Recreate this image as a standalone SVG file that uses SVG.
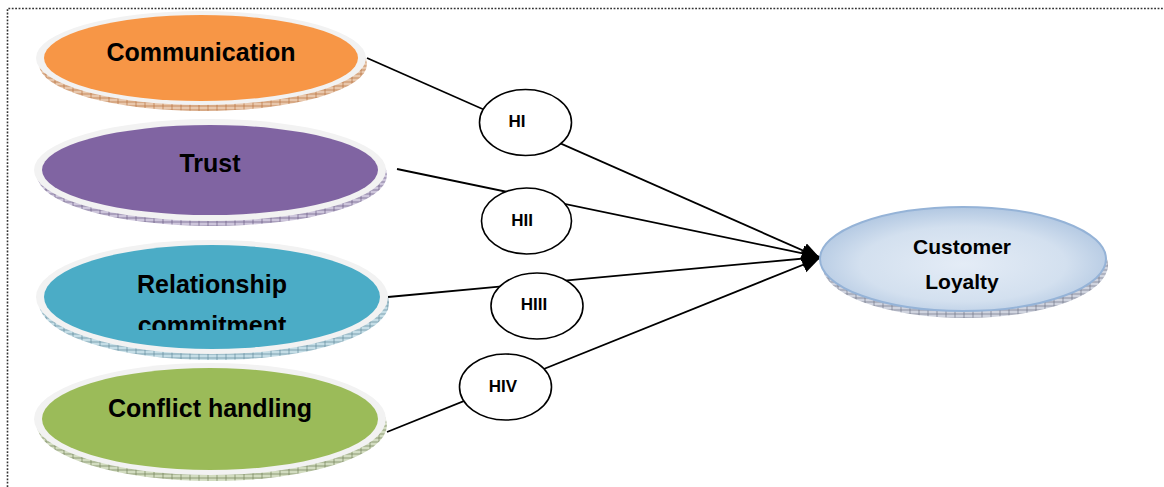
<svg xmlns="http://www.w3.org/2000/svg" width="1164" height="487" viewBox="0 0 1164 487">
<style>
.rim{fill:#f2f2f2}
.lbl{font-family:"Liberation Sans",Arial,sans-serif;font-weight:bold;font-size:25px;fill:#000;text-anchor:middle}
.cl{font-family:"Liberation Sans",Arial,sans-serif;font-weight:bold;font-size:21px;fill:#000;text-anchor:middle}
.h{fill:#fff;stroke:#000;stroke-width:1.6}
.ht{font-family:"Liberation Sans",Arial,sans-serif;font-weight:bold;font-size:17px;fill:#000;text-anchor:middle}
.con{stroke:#000;stroke-width:1.8;fill:none;marker-end:url(#arr)}
.border{fill:none;stroke:#333;stroke-width:1.6;stroke-dasharray:1.8 1.6}
</style>
<defs>
<marker id="arr" markerUnits="userSpaceOnUse" markerWidth="20" markerHeight="18" refX="18" refY="8" orient="auto">
<path d="M0,0 L18,8 L0,16 Z" fill="#000"/>
</marker>
<pattern id="hO" width="9" height="4" patternUnits="userSpaceOnUse"><rect width="9" height="4" fill="#e8c7ac"/><path d="M0,2 H9 M1,0 V4" stroke="#b86f3c" stroke-width="0.7"/></pattern>
<pattern id="hP" width="9" height="4" patternUnits="userSpaceOnUse"><rect width="9" height="4" fill="#cdc5db"/><path d="M0,2 H9 M1,0 V4" stroke="#6a5a82" stroke-width="0.7"/></pattern>
<pattern id="hB" width="9" height="4" patternUnits="userSpaceOnUse"><rect width="9" height="4" fill="#c4dde6"/><path d="M0,2 H9 M1,0 V4" stroke="#5d8a9a" stroke-width="0.7"/></pattern>
<pattern id="hG" width="9" height="4" patternUnits="userSpaceOnUse"><rect width="9" height="4" fill="#d2dcc0"/><path d="M0,2 H9 M1,0 V4" stroke="#6e7f54" stroke-width="0.7"/></pattern>
<pattern id="hC" width="9" height="4" patternUnits="userSpaceOnUse"><rect width="9" height="4" fill="#cfd3de"/><path d="M0,2 H9 M1,0 V4" stroke="#6f7486" stroke-width="0.7"/></pattern>
<radialGradient id="gC" cx="0.5" cy="0.55" r="0.6">
<stop offset="0" stop-color="#e4ecf6"/><stop offset="0.6" stop-color="#d3e0ef"/><stop offset="1" stop-color="#a9c1de"/>
</radialGradient>
<clipPath id="clipRC"><rect x="0" y="240" width="420" height="90"/></clipPath>
</defs>

<path class="border" d="M7.5,487 V8.5 H1164"/>

<g id="connectors">
<line class="con" x1="367" y1="58" x2="820" y2="258"/>
<line class="con" x1="397" y1="169" x2="820" y2="257"/>
<line class="con" x1="388" y1="297" x2="820" y2="257"/>
<line class="con" x1="387" y1="432" x2="820" y2="258"/>
</g>

<g id="communication">
<ellipse cx="203" cy="64" rx="164" ry="47" fill="url(#hO)"/>
<ellipse class="rim" cx="201" cy="58" rx="165" ry="47"/>
<ellipse cx="201" cy="58" rx="157" ry="43" fill="#f79646"/>
<text class="lbl" x="201" y="61">Communication</text>
</g>

<g id="trust">
<ellipse cx="212" cy="175" rx="175" ry="51" fill="url(#hP)"/>
<ellipse class="rim" cx="210" cy="170" rx="176" ry="51"/>
<ellipse cx="210" cy="170" rx="168" ry="45" fill="#8064a2"/>
<text class="lbl" x="210" y="172">Trust</text>
</g>

<g id="relationship-commitment">
<ellipse cx="214" cy="303" rx="175" ry="57" fill="url(#hB)"/>
<ellipse class="rim" cx="212" cy="297" rx="176" ry="57"/>
<ellipse cx="212" cy="297" rx="168" ry="52" fill="#4bacc6"/>
<g clip-path="url(#clipRC)">
<text class="lbl" x="212" y="293">Relationship</text>
<text class="lbl" x="212" y="334">commitment</text>
</g>
</g>

<g id="conflict-handling">
<ellipse cx="212" cy="425" rx="175" ry="56" fill="url(#hG)"/>
<ellipse class="rim" cx="210" cy="419" rx="176" ry="56"/>
<ellipse cx="210" cy="419" rx="168" ry="51" fill="#9bbb59"/>
<text class="lbl" x="210" y="417">Conflict handling</text>
</g>

<g id="customer-loyalty">
<ellipse cx="965" cy="265" rx="143" ry="53" fill="url(#hC)"/>
<ellipse cx="963" cy="259" rx="143" ry="52" fill="url(#gC)" stroke="#95b3d7" stroke-width="2"/>
<text class="cl" x="962" y="254">Customer</text>
<text class="cl" x="962" y="289">Loyalty</text>
</g>

<g id="HI">
<ellipse class="h" cx="525.5" cy="122.5" rx="46" ry="33"/>
<text class="ht" x="517" y="127">HI</text>
</g>
<g id="HII">
<ellipse class="h" cx="526.5" cy="221" rx="45" ry="33"/>
<text class="ht" x="522" y="226">HII</text>
</g>
<g id="HIII">
<ellipse class="h" cx="537" cy="306" rx="46" ry="33"/>
<text class="ht" x="534" y="310">HIII</text>
</g>
<g id="HIV">
<ellipse class="h" cx="505.5" cy="387" rx="46" ry="33"/>
<text class="ht" x="503" y="392">HIV</text>
</g>
</svg>
